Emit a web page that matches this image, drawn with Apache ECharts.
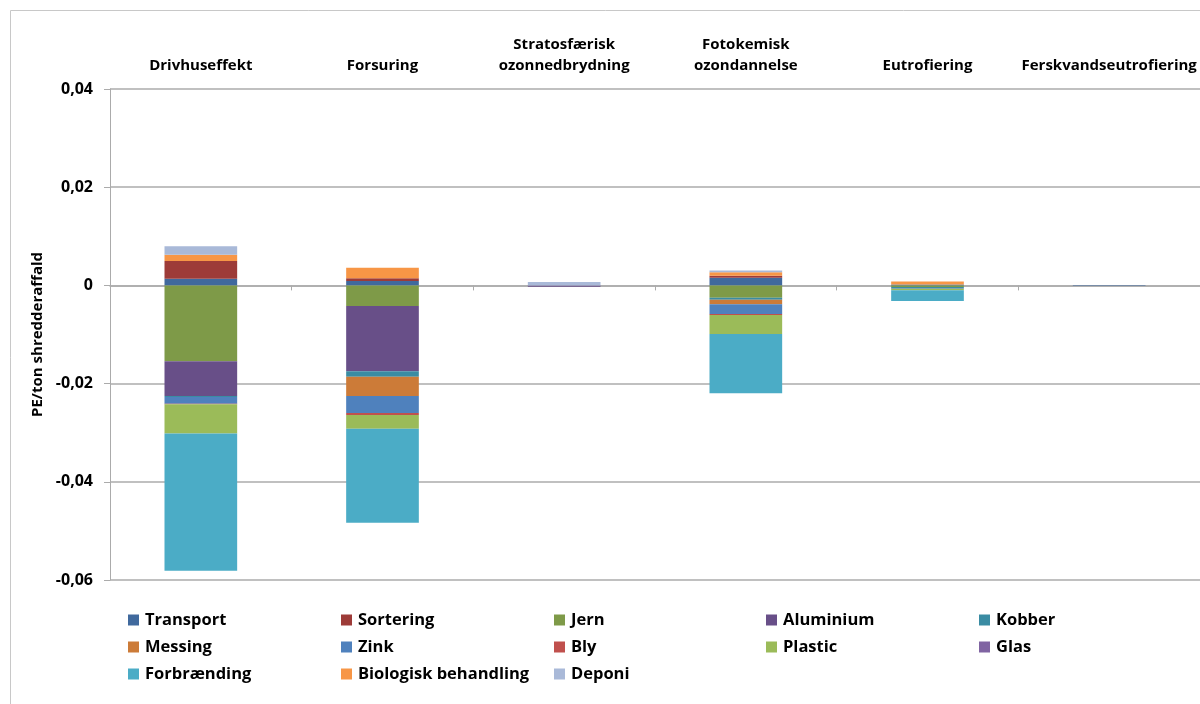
<!DOCTYPE html>
<html>
<head>
<meta charset="utf-8">
<title>PE/ton shredderaffald</title>
<script src="https://cdn.jsdelivr.net/npm/echarts@6/dist/echarts.min.js"></script>
<style>
  html, body { margin: 0; padding: 0; background: #fff; }
  #chart { width: 1200px; height: 704px; }
</style>
</head>
<body>
<div id="chart"></div>
<script>
// Impact categories (top labels)
const categories = [
  'Drivhuseffekt',
  'Forsuring',
  'Stratosfærisk\nozonnedbrydning',
  'Fotokemisk\nozondannelse',
  'Eutrofiering',
  'Ferskvandseutrofiering'
];

// Contributions per process, PE per ton shredder waste
const transport   = [0.00136, 0.00088, 0, 0.00156, 0.0002, 0.0001];
const sortering   = [0.0036, 0.0006, 0, 0.0004, 0, 0];
const jern        = [-0.01543, -0.0042, 0, -0.0025, -0.00035, 0];
const aluminium   = [-0.0071, -0.01326, -0.0003, 0, 0, 0];
const kobber      = [-0.0002, -0.00115, 0, -0.0004, -0.0002, 0];
const messing     = [0, -0.0039, 0, -0.00095, 0, 0];
const zink        = [-0.00136, -0.0035, 0, -0.002, -0.00015, 0];
const bly         = [-0.0001, -0.0004, 0, -0.0002, 0, 0];
const plastic     = [-0.00595, -0.0028, 0, -0.00386, -0.0003, 0];
const glas        = [0, 0, 0, 0, 0, 0];
const forbraending = [-0.02796, -0.01915, 0, -0.01205, -0.0022, 0];
const biologisk   = [0.00129, 0.0021, 0, 0.0007, 0.0006, 0];
const deponi      = [0.0017, 0, 0.0007, 0.0004, 0, 0];

// Y axis range
const yMin = -0.06;
const yMax = 0.04;
const yStep = 0.02;

const seriesDefs = [
  { name: 'Transport', data: transport, color: '#40699D' },
  { name: 'Sortering', data: sortering, color: '#9D3B38' },
  { name: 'Jern', data: jern, color: '#7E9A48' },
  { name: 'Aluminium', data: aluminium, color: '#684F88' },
  { name: 'Kobber', data: kobber, color: '#3A8CA3' },
  { name: 'Messing', data: messing, color: '#CC7B38' },
  { name: 'Zink', data: zink, color: '#4F81BD' },
  { name: 'Bly', data: bly, color: '#C0504D' },
  { name: 'Plastic', data: plastic, color: '#9BBB59' },
  { name: 'Glas', data: glas, color: '#8064A2' },
  { name: 'Forbrænding', data: forbraending, color: '#4BACC6' },
  { name: 'Biologisk behandling', data: biologisk, color: '#F79646' },
  { name: 'Deponi', data: deponi, color: '#A9B9D8' }
];

const FONT = '"Open Sans", "Liberation Sans", sans-serif';

// Legend columns, left to right
const legendCols = [
  { left: 128, names: ['Transport', 'Messing', 'Forbrænding'] },
  { left: 341, names: ['Sortering', 'Zink', 'Biologisk behandling'] },
  { left: 554, names: ['Jern', 'Bly', 'Deponi'] },
  { left: 766, names: ['Aluminium', 'Plastic'] },
  { left: 979, names: ['Kobber', 'Glas'] }
];

const chart = echarts.init(document.getElementById('chart'));

const gridColor = '#ABABAB';

const option = {
  animation: false,
  backgroundColor: '#ffffff',
  textStyle: { fontFamily: FONT },
  graphic: [{
    type: 'rect',
    shape: { x: 10.5, y: 10.5, width: 1200, height: 720 },
    style: { fill: 'none', stroke: '#C8C8C8', lineWidth: 1 },
    silent: true,
    z: -10
  }],
  grid: { left: 110, right: 0, top: 89, bottom: 124 },
  legend: legendCols.map(c => ({
    orient: 'vertical',
    left: c.left,
    top: 610,
    padding: 0,
    itemWidth: 11,
    itemHeight: 11,
    itemGap: 7,
    icon: 'rect',
    selectedMode: false,
    data: c.names,
    textStyle: { fontFamily: FONT, fontWeight: 'bold', fontSize: 16.5, color: '#000', lineHeight: 20, padding: [0, 0, 0, 1] }
  })),
  xAxis: [{
    type: 'category',
    data: categories,
    position: 'bottom',
    axisLine: { onZero: true, lineStyle: { color: gridColor, width: 1.5 } },
    axisTick: { show: true, length: 5, lineStyle: { color: gridColor } },
    axisLabel: { show: false },
    splitLine: { show: false }
  }, {
    type: 'category',
    data: categories,
    position: 'top',
    axisLine: { show: false },
    axisTick: { show: false },
    axisLabel: {
      show: true,
      interval: 0,
      margin: 13,
      fontFamily: FONT,
      fontWeight: 'bold',
      fontSize: 15,
      lineHeight: 21,
      color: '#000'
    }
  }],
  yAxis: {
    type: 'value',
    min: yMin,
    max: yMax,
    interval: yStep,
    name: 'PE/ton shredderaffald',
    nameLocation: 'middle',
    nameRotate: 90,
    nameGap: 62,
    nameTextStyle: { fontFamily: FONT, fontWeight: 'bold', fontSize: 15, color: '#000' },
    axisLine: { show: true, lineStyle: { color: gridColor } },
    axisTick: { show: true, length: 6, lineStyle: { color: gridColor } },
    axisLabel: {
      fontFamily: FONT,
      fontWeight: 'bold',
      fontSize: 16,
      color: '#000',
      margin: 17,
      formatter: v => (Math.abs(v) < 1e-9 ? '0' : v.toFixed(2).replace('.', ','))
    },
    splitLine: { show: true, lineStyle: { color: gridColor, width: 1.5 } }
  },
  series: seriesDefs.map(s => ({
    name: s.name,
    type: 'bar',
    stack: 'total',
    xAxisIndex: 0,
    barWidth: '40%',
    data: s.data,
    itemStyle: { color: s.color },
    emphasis: { disabled: true }
  }))
};

chart.setOption(option);
</script>
</body>
</html>
